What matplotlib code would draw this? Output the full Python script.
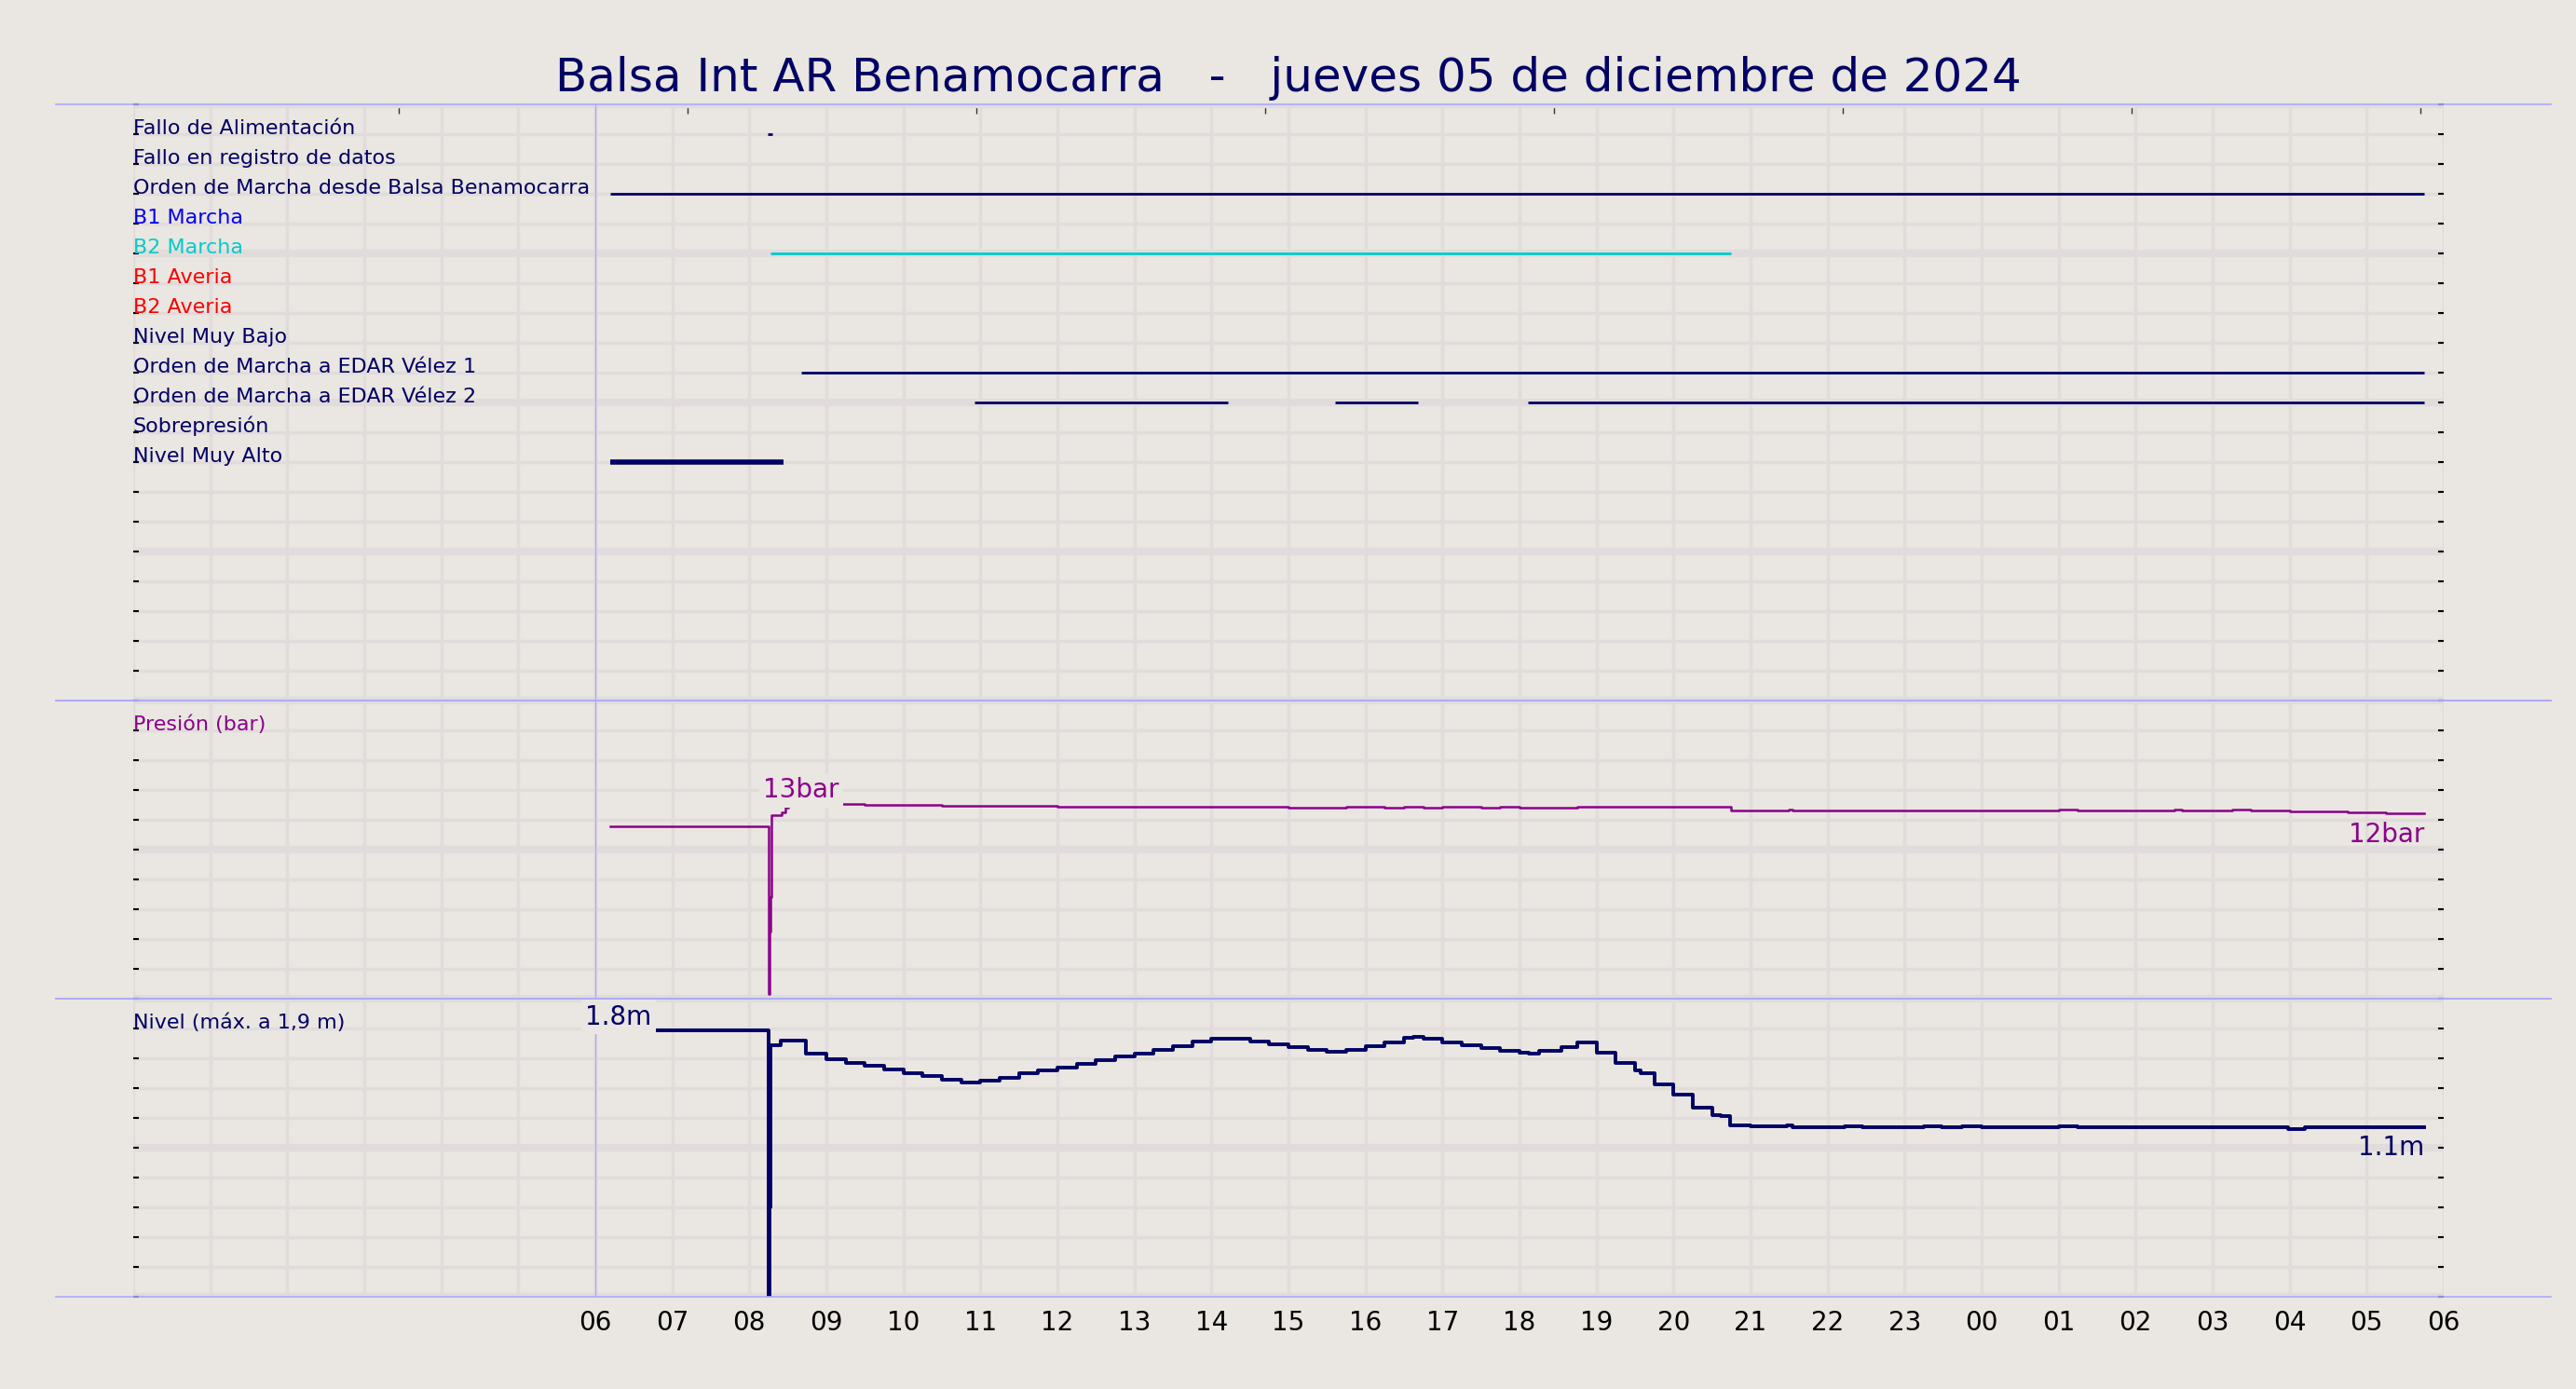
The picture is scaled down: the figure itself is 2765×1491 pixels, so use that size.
import numpy as np
import matplotlib
matplotlib.use('Agg')
import matplotlib.pyplot as plt
from matplotlib.lines import Line2D
from matplotlib.ticker import MultipleLocator

# Colores
fondo = '#EAE6E1'
rejilla = '#E1DCDB'
azul_claro = '#AAAAFF'
marino = '#000066'
morado = '#8B008B'

titulo = 'Balsa Int AR Benamocarra   -   jueves 05 de diciembre de 2024'

# Señales digitales (horas desde las 00:00 del día 5)
senales = ['Fallo de Alimentación', 'Fallo en registro de datos',
           'Orden de Marcha desde Balsa Benamocarra', 'B1 Marcha', 'B2 Marcha',
           'B1 Averia', 'B2 Averia', 'Nivel Muy Bajo', 'Orden de Marcha a EDAR Vélez 1',
           'Orden de Marcha a EDAR Vélez 2', 'Sobrepresión', 'Nivel Muy Alto']
colores_senal = [marino, marino, marino, '#0000FF', '#00CCCC', '#FF0000', '#FF0000',
                 marino, marino, marino, marino, marino]
tramos = [[(8.24, 8.30)], [], [(6.2, 29.75)], [], [(8.28, 20.75)], [], [], [],
          [(8.68, 29.75)], [(10.93, 14.22), (15.61, 16.68), (18.11, 29.75)], [],
          [(6.2, 8.45)]]

# Presión (bar)
pres_t = [6.2, 8.25, 8.26, 8.265, 8.275, 8.29, 8.42, 8.47, 8.51, 8.67, 9.2, 9.5, 10.5, 12.0,
          15.0, 15.75, 16.25, 16.5, 16.75, 17.0, 17.5, 17.75, 18.0, 18.75, 20.75, 21.5,
          21.55, 25.0, 25.25, 26.5, 26.6, 27.25, 27.5, 28.0, 28.75, 29.25, 29.75]
pres_v = [11.58, 0.3, 3.5, 4.5, 6.8, 12.31, 12.52, 12.83, 12.95, 13.1, 13.04, 12.98, 12.92,
          12.86, 12.79, 12.86, 12.79, 12.86, 12.79, 12.86, 12.79, 12.86, 12.8, 12.88, 12.625,
          12.69, 12.625, 12.69, 12.625, 12.69, 12.625, 12.69, 12.625, 12.54, 12.48, 12.42, 12.42]

# Nivel (m)
niv_t = [6.3, 8.25, 8.26, 8.27, 8.41, 8.73, 9.0, 9.25, 9.5, 9.75, 10.0, 10.25, 10.5, 10.75,
         11.0, 11.25, 11.5, 11.75, 12.0, 12.25, 12.5, 12.75, 13.0, 13.25, 13.5, 13.75, 14.0,
         14.5, 14.75, 15.0, 15.25, 15.5, 15.75, 16.0, 16.25, 16.5, 16.62, 16.75, 17.0, 17.25,
         17.5, 17.75, 18.0, 18.12, 18.25, 18.55, 18.75, 19.0, 19.25, 19.5, 19.57, 19.75,
         20.0, 20.25, 20.5, 20.62, 20.73, 21.0, 21.47, 21.55, 22.22, 22.45, 23.25, 23.48,
         23.75, 24.0, 25.0, 25.25, 27.98, 28.2, 29.25, 29.75]
niv_v = [1.79, 0.0, 0.6, 1.69, 1.717, 1.633, 1.596, 1.571, 1.548, 1.527, 1.502, 1.483, 1.458,
         1.44, 1.45, 1.471, 1.5, 1.517, 1.536, 1.565, 1.59, 1.615, 1.633, 1.658, 1.683, 1.712,
         1.733, 1.714, 1.694, 1.677, 1.658, 1.642, 1.658, 1.683, 1.708, 1.735, 1.742, 1.729,
         1.708, 1.687, 1.671, 1.652, 1.64, 1.631, 1.652, 1.677, 1.704, 1.64, 1.571, 1.521,
         1.498, 1.425, 1.354, 1.271, 1.221, 1.21, 1.15, 1.142, 1.148, 1.137, 1.144, 1.135,
         1.143, 1.135, 1.143, 1.135, 1.143, 1.135, 1.126, 1.135, 1.14, 1.14]

horas = list(range(0, 31))
etiquetas_x = ['' if h < 6 else '{:02d}'.format(h % 24) for h in horas]


def preparar(ax, ymax, paso):
    ax.set_facecolor(fondo)
    ax.set_xlim(0, 30)
    ax.set_ylim(0, ymax)
    ax.set_xticks(horas)
    ax.yaxis.set_major_locator(MultipleLocator(paso * 5))
    ax.yaxis.set_minor_locator(MultipleLocator(paso))
    ax.grid(True, which='major', axis='x', color=rejilla, lw=2.5)
    ax.grid(True, which='major', axis='y', color=rejilla, lw=6)
    ax.grid(True, which='minor', axis='y', color=rejilla, lw=2.5)
    ax.set_axisbelow(True)
    for s in ax.spines.values():
        s.set_visible(False)
    ax.tick_params(axis='y', which='both', direction='in', left=True, right=True,
                   length=4, width=1.5, labelleft=False, color='black')
    ax.tick_params(axis='x', length=0, labelbottom=False)
    ax.axvline(6, color=azul_claro, lw=1, zorder=1)


fig = plt.figure(figsize=(27.65, 14.91), dpi=100, facecolor=fondo)
izq, ancho = 0.0517, 0.8969
ax1 = fig.add_axes([izq, 0.4956, ancho, 0.4292])
ax2 = fig.add_axes([izq, 0.2810, ancho, 0.2146])
ax3 = fig.add_axes([izq, 0.0664, ancho, 0.2146])

preparar(ax1, 20, 1)
preparar(ax2, 20, 2)
preparar(ax3, 2, 0.2)

# Marcas de arriba del panel de señales
sec = ax1.secondary_xaxis('top')
sec.set_xticks([3.45 + 3.75 * k for k in range(8)])
sec.tick_params(direction='in', length=7, width=1, labeltop=False, color='#333333')
sec.spines['top'].set_visible(False)

# Señales
for i, (nombre, color, tr) in enumerate(zip(senales, colores_senal, tramos)):
    y = 19 - i
    ax1.text(0, y, nombre, color=color, fontsize=16, ha='left', va='baseline')
    grosor = 4 if nombre == 'Nivel Muy Alto' else 2
    for a, b in tr:
        ax1.hlines(y, a, b, color=color, lw=grosor, zorder=3)

caja = dict(boxstyle='square,pad=0.15', fc=fondo, ec='none')

# Presión
ax2.step(pres_t, pres_v, where='post', color=morado, lw=1.8, zorder=3)
ax2.text(0, 18, 'Presión (bar)', color=morado, fontsize=16, ha='left', va='baseline')
i = int(np.argmax(pres_v))
ax2.text(pres_t[i], pres_v[i], '{:.0f}bar'.format(pres_v[i]), color=morado, fontsize=20,
         ha='center', va='bottom', bbox=caja, zorder=5)
ax2.annotate('{:.0f}bar'.format(pres_v[-1]), (pres_t[-1], pres_v[-1]), xytext=(0, -6),
             textcoords='offset points', color=morado, fontsize=20, ha='right', va='top',
             zorder=5)

# Nivel
ax3.step(niv_t, niv_v, where='post', color=marino, lw=2.8, zorder=3)
ax3.text(0, 1.8, 'Nivel (máx. a 1,9 m)', color=marino, fontsize=16, ha='left', va='baseline')
i = int(np.argmax(niv_v))
ax3.text(niv_t[i], niv_v[i], '{:.1f}m'.format(niv_v[i]), color=marino, fontsize=20,
         ha='center', va='bottom', bbox=caja, zorder=5)
ax3.annotate('{:.1f}m'.format(niv_v[-1]), (niv_t[-1], niv_v[-1]), xytext=(0, -6),
             textcoords='offset points', color=marino, fontsize=20, ha='right', va='top',
             zorder=5)

ax3.set_xticklabels(etiquetas_x)
ax3.tick_params(axis='x', labelbottom=True, labelsize=20, pad=10, length=0)

# Líneas separadoras
for ax in (ax1, ax2, ax3):
    p = ax.get_position()
    for y in (p.y0, p.y1):
        fig.add_artist(Line2D([0.0217, 0.9902], [y, y], color=azul_claro, lw=1.2,
                              transform=fig.transFigure))

fig.text(0.5, 1 - 98 / 1491, titulo, ha='center', va='baseline', fontsize=36, color=marino)

fig.savefig('out.png', dpi=100, facecolor=fondo)
